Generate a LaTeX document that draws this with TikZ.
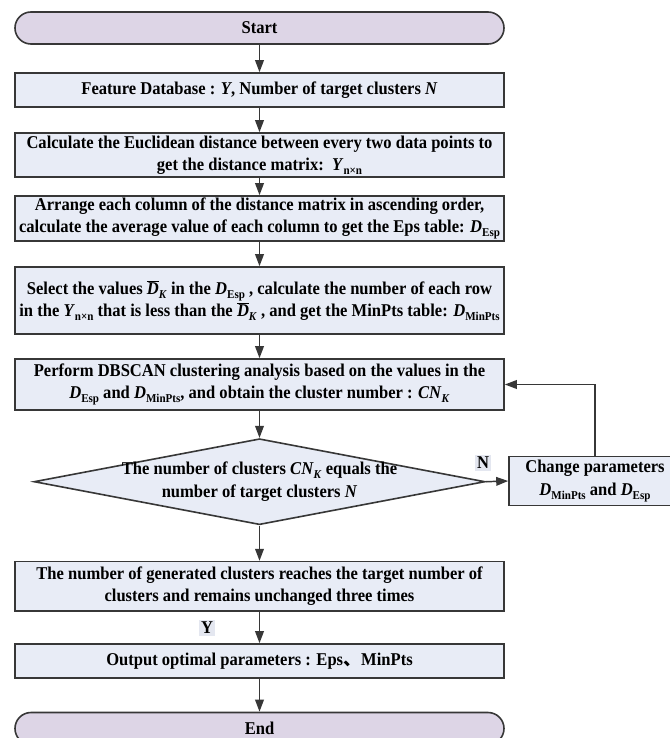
\documentclass[tikz,border=0pt]{standalone}
\usepackage{fontspec}
\setmainfont[FakeStretch=0.92]{Liberation Serif}
\newfontfamily\cjk{Noto Sans CJK SC}
\usepackage{xcolor}
\usepackage{tikz}
\usetikzlibrary{shapes.geometric}
\usetikzlibrary{arrows.meta}
\definecolor{termfill}{RGB}{221,213,230}
\definecolor{boxfill}{RGB}{232,236,246}
\definecolor{tagfill}{RGB}{228,231,240}
\definecolor{edgegray}{RGB}{55,55,55}
\tikzset{
	flow/.style={draw=edgegray, line width=1.2pt, align=center, font=\fontsize{13.5pt}{16.8pt}\selectfont\bfseries, inner sep=0pt},
	procbox/.style={flow, rectangle, fill=boxfill, minimum width=366.75pt},
	termbox/.style={flow, rectangle, rounded corners=12pt, fill=termfill, minimum width=366.75pt, minimum height=24pt},
	decbox/.style={flow, diamond, fill=boxfill, minimum width=338.25pt, minimum height=64.5pt},
	tag/.style={fill=tagfill, font=\fontsize{13.5pt}{13.5pt}\selectfont\bfseries, inner sep=1.5pt},
	link/.style={line width=1.1pt, edgegray, -{Triangle[length=9pt,width=6.5pt]}}
}
\newcommand{\lowsub}[1]{\raisebox{-0.45ex}{\fontsize{9pt}{9pt}\selectfont #1}}
\newcommand{\dbar}{$\overline{\mbox{\textit{D}}}$\lowsub{\textit{K}}}
\begin{document}
\begin{tikzpicture}[x=0.75pt, y=-0.75pt]
	\useasboundingbox (0,0) rectangle (670,738);
%
	\node[termbox] (start) at (259.5,28) {Start};
	\node[procbox, minimum height=25.5pt] (feat) at (259.5,90) {Feature Database : \textit{Y}, Number of target clusters \textit{N}};
	\node[procbox, minimum height=33pt] (calc) at (259.5,155) {Calculate the Euclidean distance between every two data points to\\ get the distance matrix:\ \ \textit{Y}\lowsub{n×n}};
	\node[procbox, minimum height=33.75pt] (arr) at (259.5,218.5) {Arrange each column of the distance matrix in ascending order,\\ calculate the average value of each column to get the Eps table: \textit{D}\lowsub{Esp}};
	\node[procbox, minimum height=50.25pt] (sel) at (259.5,300.5) {Select the values \dbar{} in the \textit{D}\lowsub{Esp} , calculate the number of each row\\ in the \textit{Y}\lowsub{n×n} that is less than the \dbar{} , and get the MinPts table: \textit{D}\lowsub{MinPts}};
	\node[procbox, minimum height=38.25pt] (perf) at (259.5,384.5) {Perform DBSCAN clustering analysis based on the values in the\\ \textit{D}\lowsub{Esp} and \textit{D}\lowsub{MinPts}, and obtain the cluster number : \textit{CN}\lowsub{\textit{K}}};
%
	\node[decbox] (dec) at (259.5,481.7) {\makebox[0pt]{\parbox{260pt}{\centering The number of clusters \textit{CN}\lowsub{\textit{K}} equals the\\ number of target clusters \textit{N}}}};
	\node[procbox, minimum width=129pt, minimum height=36.75pt] (chg) at (595,481) {Change parameters\\ \textit{D}\lowsub{MinPts} and \textit{D}\lowsub{Esp}};
%
	\node[procbox, minimum height=37pt] (gen) at (259.5,586.3) {The number of generated clusters reaches the target number of\\ clusters and remains unchanged three times};
	\node[procbox, minimum height=25.5pt] (out) at (259.5,661) {Output optimal parameters : Eps{\cjk 、}MinPts};
	\node[termbox] (end) at (259.5,728.5) {End};
%
	\node[tag] (ntag) at (483,463) {N};
	\node[tag] (ytag) at (207,628) {Y};
%
	\draw[link] (start) -- (feat);
	\draw[link] (feat) -- (calc);
	\draw[link] (calc) -- (arr);
	\draw[link] (arr) -- (sel);
	\draw[link] (sel) -- (perf);
	\draw[link] (perf) -- (dec);
	\draw[link] (dec.east) -- (chg.west);
	\draw[link] (chg.north) |- (perf.east);
	\draw[link] (dec.south) -- (gen.north);
	\draw[link] (gen) -- (out);
	\draw[link] (out) -- (end);
\end{tikzpicture}
\end{document}
